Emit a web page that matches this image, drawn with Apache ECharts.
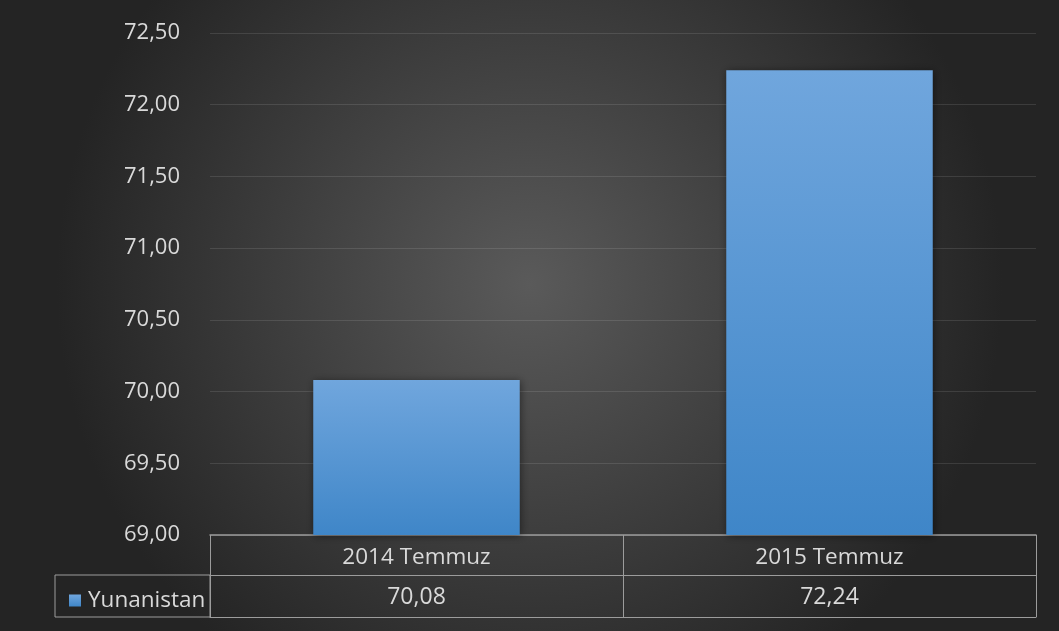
<!DOCTYPE html>
<html><head><meta charset="utf-8">
<script src="https://cdn.jsdelivr.net/npm/echarts@6/dist/echarts.min.js"></script>
<style>html,body{margin:0;padding:0;background:#2b2b2b}#c{width:1059px;height:631px}</style>
</head><body><div id="c"></div>
<script>
const categories = ['2014 Temmuz', '2015 Temmuz'];
const seriesName = 'Yunanistan';
const values = [70.08, 72.24];
const yMin = 69, yMax = 72.5, yStep = 0.5;

const fmt = v => v.toFixed(2).replace('.', ',');
const FONT = 'Open Sans';
const TXT = '#d9d9d9';
const LINE = '#9c9c9c';

const chart = echarts.init(document.getElementById('c'));
chart.setOption({
  backgroundColor: {type:'radial', x:0.5, y:0.45, r:0.75,
    colorStops:[{offset:0,color:'#5a5a5a'},{offset:1,color:'#242424'}]},
  animation:false,
  textStyle:{fontFamily:FONT},
  grid:{left:210, right:23, top:33, bottom:96},
  legend:{show:true, left:64, top:584, itemWidth:12, itemHeight:12, itemGap:5,
    icon:'rect', data:[seriesName],
    textStyle:{color:TXT, fontSize:22.5, fontFamily:FONT, padding:[0,0,0,2]}},
  graphic:[{type:'rect', shape:{x:55, y:575, width:155, height:42},
    style:{fill:'none', stroke:LINE, lineWidth:1}, silent:true}],
  xAxis:[
    {type:'category', data:categories, position:'bottom',
     axisLine:{show:true, lineStyle:{color:LINE, width:1.5}},
     axisTick:{show:true, length:82, lineStyle:{color:LINE}},
     axisLabel:{color:TXT, fontSize:22.5, fontFamily:FONT, margin:11}},
    {type:'category', data:values.map(fmt), position:'bottom', offset:40,
     axisLine:{show:true, lineStyle:{color:LINE}},
     axisTick:{show:false},
     axisLabel:{color:TXT, fontSize:23, fontFamily:FONT, margin:11}},
    {type:'category', data:categories, position:'bottom', offset:82,
     axisLine:{show:true, lineStyle:{color:LINE}},
     axisTick:{show:false}, axisLabel:{show:false}}
  ],
  yAxis:{type:'value', min:yMin, max:yMax, interval:yStep,
    axisLine:{show:false}, axisTick:{show:false},
    axisLabel:{color:TXT, fontSize:22, fontFamily:FONT, margin:30, formatter:v=>fmt(v)},
    splitLine:{lineStyle:{color:'rgba(255,255,255,0.11)', width:1}}},
  series:[{type:'bar', name:seriesName, data:values, barWidth:'50%', xAxisIndex:0,
    itemStyle:{color:{type:'linear', x:0,y:0,x2:0,y2:1,
      colorStops:[{offset:0,color:'#70a6dd'},{offset:1,color:'#3f86c8'}]},
      shadowBlur:8, shadowColor:'rgba(0,0,0,0.45)', shadowOffsetX:1, shadowOffsetY:1}}]
});
</script></body></html>
